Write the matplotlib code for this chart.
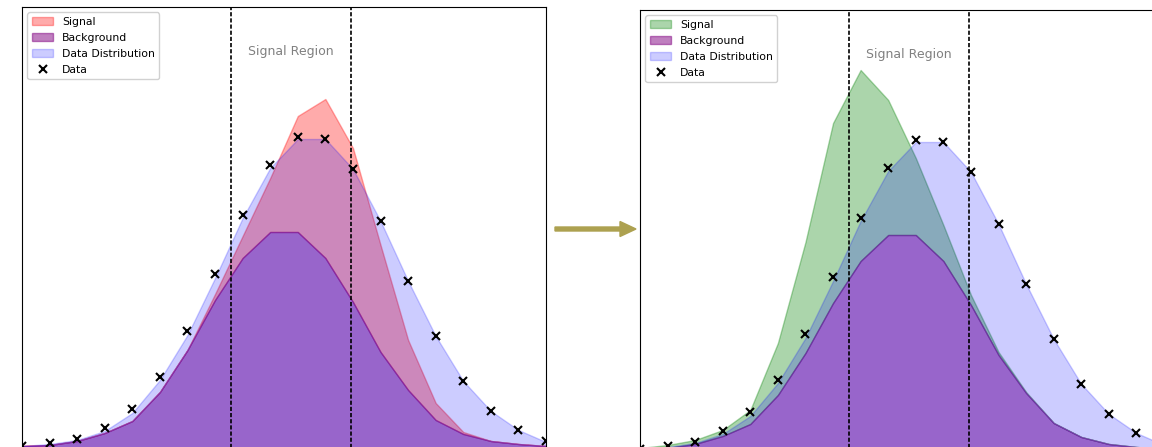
import matplotlib
matplotlib.use("Agg")
import matplotlib.pyplot as plt
from matplotlib.patches import FancyArrow
from matplotlib.lines import Line2D
from matplotlib.patches import Patch
import numpy as np

# ---- data (bin index along the observable) ----
bins = list(range(20))
data_points = [2, 5, 9, 20, 39, 71, 117, 174, 233, 283, 311, 309, 279, 227, 167, 112, 67, 37, 18, 7]
data_dist = [2, 4, 8, 17, 35, 68, 113, 170, 230, 280, 309, 309, 279, 227, 167, 112, 67, 37, 18, 6]
background = [2, 3, 7, 15, 27, 56, 98, 148, 190, 216, 216, 190, 146, 96, 58, 28, 14, 7, 4, 2]
signal_left = [0, 0, 0, 0, 0, 0, 0, 6, 22, 54, 116, 159, 154, 107, 50, 17, 2, 0, 0, 0]
signal_right = [1, 3, 4, 6, 14, 52, 111, 180, 191, 135, 77, 36, 10, 3, 1, 0, 0, 0, 0, 0]
signal_region = [7.58, 11.93]
labels = ["Signal", "Background", "Data Distribution", "Data"]

x = np.array(bins, dtype=float)
bg = np.array(background, dtype=float)

W, H = 1152, 447
fig = plt.figure(figsize=(W / 100, H / 100), dpi=100)

def panel(left_px, top_px, sig, sig_color):
    h_px = 441
    w_px = 524
    ax = fig.add_axes([left_px / W, (H - top_px - h_px) / H, w_px / W, h_px / H])
    s = np.array(sig, dtype=float)
    ax.fill_between(x, bg, bg + s, color=sig_color, alpha=0.33, lw=1)
    ax.fill_between(x, 0, bg, color="purple", alpha=0.5, lw=1)
    ax.fill_between(x, 0, data_dist, color="blue", alpha=0.2, lw=1)
    ax.plot(x, data_points, linestyle="none", marker="x", color="black",
            markersize=5.3, markeredgewidth=1.5)
    for xv in signal_region:
        ax.axvline(xv, color="black", lw=1.2, linestyle=(0, (2.5, 1.2)))
    ax.text(np.mean(signal_region), 0.9, "Signal Region", color="gray",
            fontsize=9, ha="center", va="center",
            transform=ax.get_xaxis_transform())
    ax.set_xlim(0, 19)
    ax.set_ylim(0, 441)
    ax.set_xticks([])
    ax.set_yticks([])
    handles = [
        Patch(facecolor=sig_color, alpha=0.33, edgecolor=sig_color),
        Patch(facecolor="purple", alpha=0.5, edgecolor="purple"),
        Patch(facecolor="blue", alpha=0.2, edgecolor="blue"),
        Line2D([], [], linestyle="none", marker="x", color="black",
               markersize=5.3, markeredgewidth=1.5),
    ]
    ax.legend(handles, labels, loc="upper left", fontsize=7.8,
              framealpha=0.9, borderaxespad=0.5, labelspacing=0.55)
    return ax

panel(22, 7, signal_left, "red")
panel(640, 10, signal_right, "green")

# arrow between panels
yc = 1 - 229 / H
arrow = FancyArrow(555 / W, yc, (636 - 555) / W, 0,
                   width=4 / H, head_width=15 / H, head_length=16 / W,
                   length_includes_head=True, color="#ada150",
                   transform=fig.transFigure)
fig.add_artist(arrow)

fig.savefig("out.png", dpi=100)
